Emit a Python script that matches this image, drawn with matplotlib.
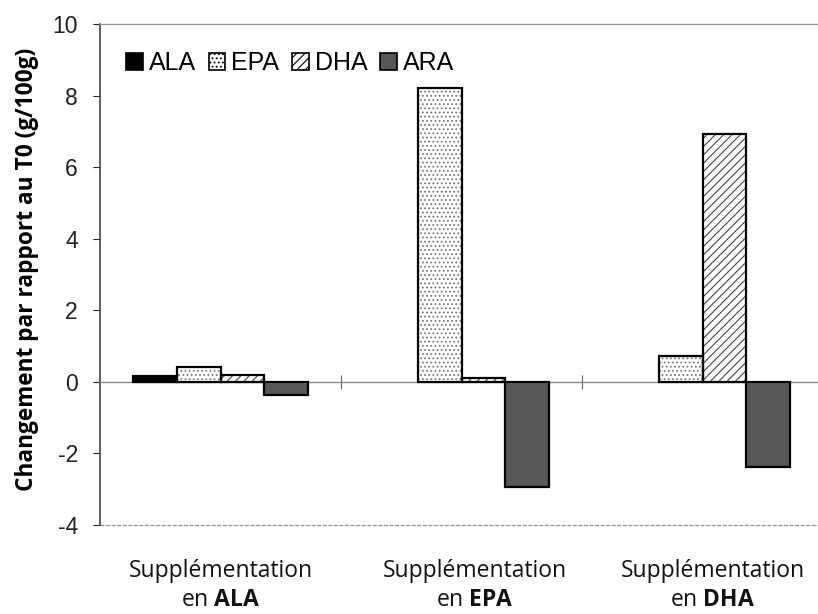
import numpy as np
import matplotlib
matplotlib.use("Agg")
import matplotlib.pyplot as plt
import matplotlib.patches as mpatches

# data
groupes = ["ALA", "EPA", "DHA"]
acides = ["ALA", "EPA", "DHA", "ARA"]
val_ala = [0.15, 0.0, 0.0]
val_epa = [0.42, 8.2, 0.72]
val_dha = [0.2, 0.12, 6.92]
val_ara = [-0.38, -2.95, -2.38]
yticks = [-4, -2, 0, 2, 4, 6, 8, 10]

plt.rcParams['font.family'] = ['Liberation Sans', 'DejaVu Sans']
plt.rcParams['hatch.linewidth'] = 0.8
plt.rcParams['mathtext.fontset'] = 'custom'
plt.rcParams['mathtext.rm'] = 'Open Sans'
plt.rcParams['mathtext.bf'] = 'Open Sans:bold'

fig = plt.figure(figsize=(8.18, 6.14), dpi=100)
ax = fig.add_axes([100 / 818, 89 / 614, 723 / 818, 501 / 614])

x = np.arange(len(groupes))
w = 0.182
styles = [
    dict(facecolor='black', hatch=None, hcol='black'),
    dict(facecolor='white', hatch='....', hcol='#777777'),
    dict(facecolor='white', hatch='////', hcol='#444444'),
    dict(facecolor='#565656', hatch=None, hcol='#565656'),
]
series = [val_ala, val_epa, val_dha, val_ara]
handles = []
for i, (vals, st) in enumerate(zip(series, styles)):
    pos = x + (i - 1.5) * w
    lw = [1.6 if v != 0 else 0 for v in vals]
    # fill + hatch layer, then black outline on top
    ax.bar(pos, vals, w, color=st['facecolor'], edgecolor=st['hcol'],
           hatch=st['hatch'], linewidth=0, zorder=2)
    ax.bar(pos, vals, w, fill=False, edgecolor='black', linewidth=lw, zorder=3)
    handles.append(mpatches.Patch(facecolor=st['facecolor'], edgecolor='black',
                                  hatch=st['hatch'], linewidth=1.2, label=acides[i]))

ax.set_xlim(-0.5, 2.5)
ax.set_ylim(-4, 10)
ax.set_yticks(yticks)
ax.set_yticklabels([str(t) for t in yticks])
ax.tick_params(axis='y', direction='out', length=5, width=0.8, pad=11,
               labelsize=16.5, colors='#222222', labelcolor='#222222')

# horizontal axis crossing at zero, with category boundary ticks
ax.spines['bottom'].set_position(('data', 0))
ax.spines['bottom'].set_color('#888888')
ax.spines['bottom'].set_linewidth(1.0)
ax.set_xticks([0.5, 1.5])
ax.set_xticklabels([])
ax.tick_params(axis='x', direction='inout', length=10, width=0.8, colors='#666666')

ax.spines['left'].set_color('#444444')
ax.spines['left'].set_linewidth(1.2)
ax.spines['right'].set_visible(False)
ax.spines['top'].set_color('#999999')
ax.spines['top'].set_linestyle((0, (3, 1)))
ax.spines['top'].set_linewidth(1.0)
ax.axhline(-4, color='#999999', linestyle=(0, (3, 1)), linewidth=1.0, clip_on=False)

ax.set_ylabel('Changement par rapport au T0 (g/100g)', family='Open Sans',
              fontweight='bold', fontsize=16.3)
ax.yaxis.set_label_coords(-0.084, 0.51)

leg = ax.legend(handles=handles, loc='center left', bbox_to_anchor=(0.036, 0.922),
                ncol=4, frameon=False, fontsize=18, handlelength=0.66, handleheight=0.66,
                handletextpad=0.24, columnspacing=0.52, borderpad=0, borderaxespad=0)

# category labels under the chart
lab_x = [221, 475, 713]
for g, lx in zip(groupes, lab_x):
    fig.text(lx / 818, 1 - 571 / 614, 'Supplémentation', family='Open Sans',
             fontsize=16.5, ha='center', va='center', color='#111111')
    fig.text(lx / 818, 1 - 600 / 614, 'en $\\mathbf{' + g + '}$', family='Open Sans',
             fontsize=16.5, ha='center', va='center', color='#111111')

fig.savefig('out.png', dpi=100)
